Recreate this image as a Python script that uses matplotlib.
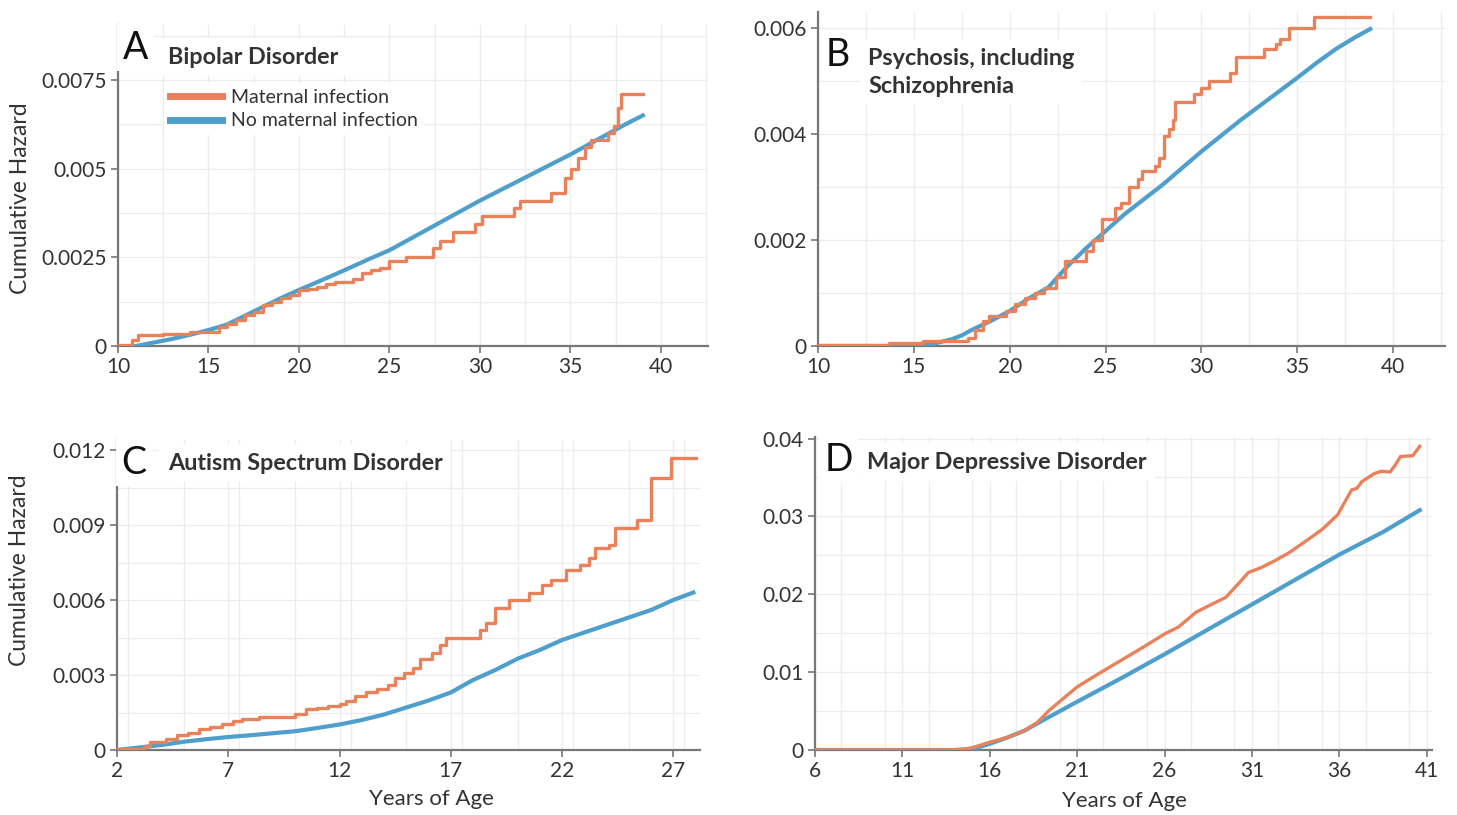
import matplotlib
matplotlib.use("Agg")
import matplotlib.pyplot as plt
from matplotlib.ticker import MultipleLocator

plt.rcParams['font.family'] = ['Lato', 'DejaVu Sans']

ORANGE = '#e9825a'
BLUE = '#4e9fcc'
TXT = '#333333'

# ---- A: bipolar disorder ----
a_inf_x = [10, 10.8, 11.1, 12.5, 14.0, 15.6, 16.0, 16.5, 17.0, 17.5, 18.0, 18.5, 19.0, 19.5,
           20.0, 20.5, 21.0, 21.5, 22.0, 23.0, 23.5, 24.0, 24.5, 25.0, 25.9, 27.4, 27.8, 28.5,
           29.75, 30.1, 31.9, 32.2, 33.9, 34.7, 35.05, 35.4, 35.8, 36.15, 37.1, 37.4, 37.6, 37.8, 39.0]
a_inf_y = [0.00003, 0.00016, 0.0003, 0.00035, 0.0004, 0.00054, 0.00063, 0.00073, 0.00087, 0.00096,
           0.00115, 0.00125, 0.00134, 0.00143, 0.00158, 0.00162, 0.00167, 0.00176, 0.00181, 0.0019,
           0.00205, 0.00214, 0.0022, 0.0024, 0.0025, 0.00277, 0.00296, 0.0032, 0.00343, 0.00366,
           0.0039, 0.0041, 0.0043, 0.00475, 0.005, 0.0053, 0.0056, 0.0058, 0.006, 0.0062, 0.0067,
           0.0071, 0.0071]
a_no_x = [11, 12, 13, 14, 15, 16, 17, 18, 19, 20, 21, 22, 23, 24, 25, 26, 27, 28, 29, 30,
          31, 32, 33, 34, 35, 36, 37, 38, 39]
a_no_y = [0, 0.0001, 0.0002, 0.00032, 0.00045, 0.0006, 0.00085, 0.0011, 0.00135, 0.00158, 0.0018,
          0.00202, 0.00225, 0.00248, 0.0027, 0.00298, 0.00326, 0.00354, 0.00382, 0.0041, 0.00436,
          0.00462, 0.00488, 0.00514, 0.0054, 0.00568, 0.00596, 0.00624, 0.0065]

# ---- B: psychosis ----
b_inf_x = [10, 13.7, 15.5, 17.8, 18.2, 18.6, 18.9, 19.8, 20.3, 20.8, 21.3, 21.8, 22.4, 22.9, 24.0,
           24.35, 24.8, 25.5, 25.8, 26.2, 26.7, 26.9, 27.55, 27.8, 28.05, 28.3, 28.5, 28.6, 29.6,
           29.97, 30.4, 31.5, 31.8, 33.25, 33.9, 34.1, 34.55, 35.85, 38.8]
b_inf_y = [0.00002, 0.00006, 0.00009, 0.00015, 0.0003, 0.00048, 0.00057, 0.00066, 0.0008, 0.0009,
           0.001, 0.0011, 0.0013, 0.0016, 0.0018, 0.002, 0.0024, 0.0026, 0.0027, 0.003, 0.00315,
           0.0033, 0.0034, 0.00355, 0.00396, 0.0041, 0.00427, 0.0046, 0.00476, 0.00486, 0.005,
           0.00514, 0.00545, 0.0056, 0.0057, 0.0058, 0.006, 0.0062, 0.0062]
b_no_x = [10, 14, 15, 16, 17, 17.5, 18, 19, 20, 21, 22, 23, 24, 25, 26, 27, 28, 29, 30, 31, 32,
          33, 34, 35, 36, 37, 38, 38.8]
b_no_y = [0, 0, 0.00001, 0.00004, 0.00013, 0.0002, 0.0003, 0.00047, 0.00066, 0.0009, 0.0011,
          0.0015, 0.00185, 0.00217, 0.00249, 0.00277, 0.00305, 0.00336, 0.00367, 0.00396, 0.00425,
          0.00452, 0.00479, 0.00506, 0.00534, 0.0056, 0.00582, 0.00598]

# ---- C: autism ----
c_inf_x = [2, 2.5, 3.2, 3.5, 4.2, 4.7, 5.2, 5.7, 6.2, 6.7, 7.2, 7.6, 8.4, 10.0, 10.5, 11.0, 11.5,
           12.0, 12.3, 12.7, 13.2, 13.7, 14.2, 14.5, 14.9, 15.3, 15.6, 16.17, 16.5, 16.77, 18.3,
           18.6, 19.0, 19.6, 20.5, 21.1, 21.5, 22.2, 22.8, 23.2, 23.5, 24.1, 24.4, 25.35, 26.0,
           26.9, 28.0]
c_inf_y = [0.00003, 0.00006, 0.00015, 0.00033, 0.00046, 0.0006, 0.0007, 0.00085, 0.00094, 0.00105,
           0.00117, 0.00126, 0.00133, 0.00143, 0.00163, 0.0017, 0.00175, 0.00183, 0.00196, 0.00215,
           0.00232, 0.00245, 0.0026, 0.0029, 0.0031, 0.0033, 0.00364, 0.0039, 0.0042, 0.0045,
           0.0048, 0.0051, 0.0057, 0.006, 0.0063, 0.0066, 0.0068, 0.0072, 0.0074, 0.0077, 0.0081,
           0.0082, 0.0089, 0.0092, 0.0109, 0.0117, 0.0117]
c_no_x = [2, 3, 4, 5, 6, 7, 8, 9, 10, 11, 12, 13, 14, 15, 16, 17, 18, 19, 20, 21, 22, 23, 24,
          25, 26, 27, 27.9]
c_no_y = [0, 0.0001, 0.0002, 0.00033, 0.00043, 0.00052, 0.00059, 0.00067, 0.00075, 0.00088,
          0.00102, 0.0012, 0.00142, 0.0017, 0.00198, 0.0023, 0.0028, 0.0032, 0.00365, 0.004, 0.0044,
          0.0047, 0.005, 0.0053, 0.0056, 0.006, 0.0063]

# ---- D: major depressive disorder ----
d_inf_x = [6, 13.5, 14.5, 15, 16, 17, 18, 18.7, 19.4, 20.2, 21, 22.3, 23.5, 24.7, 26, 26.8, 27.8,
           28.6, 29.5, 30.2, 30.8, 31.5, 32.3, 33.1, 34, 35, 35.9, 36.7, 37.0, 37.3, 38.0, 38.4,
           38.9, 39.2, 39.5, 40.2, 40.6]
d_inf_y = [0, 0, 0.0001, 0.0003, 0.001, 0.0016, 0.0025, 0.0035, 0.0051, 0.0066, 0.0081, 0.0099,
           0.0115, 0.0131, 0.0149, 0.0158, 0.0177, 0.0186, 0.0196, 0.0213, 0.0228, 0.0234, 0.0243,
           0.0253, 0.0267, 0.0283, 0.0302, 0.0334, 0.0336, 0.0345, 0.0355, 0.0358, 0.0357, 0.0366,
           0.0377, 0.0378, 0.039]
d_no_x = [6, 14, 15, 16, 17, 18, 18.7, 21, 23.5, 26, 28.5, 31, 33.5, 36, 38.5, 40.6]
d_no_y = [0, 0, 0.0001, 0.0008, 0.0016, 0.0025, 0.0034, 0.0062, 0.0092, 0.0123, 0.0155, 0.0187,
          0.0219, 0.0251, 0.028, 0.0308]

fig = plt.figure(figsize=(14.57, 8.15), dpi=100)
W, H = 1457, 815


def make_axes(l, t, r, b):
    return fig.add_axes([l / W, 1 - b / H, (r - l) / W, (b - t) / H])


axA = make_axes(118, 25, 708, 346)
axB = make_axes(818, 12, 1445, 346)
axC = make_axes(117, 440, 700, 750)
axD = make_axes(815, 437, 1432, 750)


def style(ax, xlim, xmaj, ylim, ymaj, yticks, ylabels, xticks):
    ax.set_xlim(*xlim)
    ax.set_ylim(*ylim)
    ax.set_xticks(xticks)
    ax.set_yticks(yticks)
    ax.set_yticklabels(ylabels)
    ax.xaxis.set_minor_locator(MultipleLocator(xmaj / 2))
    ax.yaxis.set_minor_locator(MultipleLocator(ymaj / 2))
    ax.grid(True, which='both', color='#ececec', lw=0.9, zorder=0)
    for s in ['top', 'right']:
        ax.spines[s].set_visible(False)
    for s in ['left', 'bottom']:
        ax.spines[s].set_color('#777777')
        ax.spines[s].set_linewidth(1.6)
    ax.tick_params(which='major', length=5, width=1.2, color='#777777', labelsize=15,
                   labelcolor=TXT, pad=3)
    ax.tick_params(which='minor', length=0)


def draw(ax, ix, iy, nx, ny, steps=True):
    ax.plot(nx, ny, color=BLUE, lw=3.0, zorder=3, label='No maternal infection')
    ax.plot(ix, iy, color=ORANGE, lw=2.4, zorder=4, label='Maternal infection',
            drawstyle='steps-post' if steps else 'default')


def panel_title(ax, letter, title, lx, ly, tx, ty):
    ax.text(lx, ly, letter, transform=ax.transAxes, fontsize=27, color='#111111',
            va='top', ha='left', zorder=6,
            bbox=dict(facecolor='white', edgecolor='none', pad=4))
    ax.text(tx, ty, title, transform=ax.transAxes, fontsize=16.8, fontweight='bold',
            color=TXT, va='center', ha='left', zorder=6, linespacing=1.4,
            bbox=dict(facecolor='white', edgecolor='none', pad=6))


draw(axA, a_inf_x, a_inf_y, a_no_x, a_no_y)
style(axA, (10, 42.6), 5, (0, 0.00905), 0.0025, [0, 0.0025, 0.005, 0.0075],
      ['0', '0.0025', '0.005', '0.0075'], [10, 15, 20, 25, 30, 35, 40])
panel_title(axA, 'A', 'Bipolar Disorder', 0.008, 0.985, 0.085, 0.90)
h, l = axA.get_legend_handles_labels()
leg = axA.legend(h[::-1], l[::-1], loc='upper left', bbox_to_anchor=(0.078, 0.82),
                 frameon=True, fontsize=14, handlelength=2.7, handletextpad=0.45,
                 labelspacing=0.35, borderpad=0.3, borderaxespad=0)
leg.get_frame().set_edgecolor('none')
leg.get_frame().set_facecolor('white')
leg.get_frame().set_alpha(1)
for line in leg.get_lines():
    line.set_linewidth(5)
    line.set_drawstyle('default')
for t in leg.get_texts():
    t.set_color(TXT)
axA.set_ylabel('Cumulative Hazard', fontsize=16.5, color=TXT)
axA.yaxis.set_label_coords(-0.147, 0.46)

draw(axB, b_inf_x, b_inf_y, b_no_x, b_no_y)
style(axB, (10, 42.7), 5, (0, 0.0063), 0.002, [0, 0.002, 0.004, 0.006],
      ['0', '0.002', '0.004', '0.006'], [10, 15, 20, 25, 30, 35, 40])
panel_title(axB, 'B', 'Psychosis, including\nSchizophrenia', 0.012, 0.925, 0.08, 0.82)

draw(axC, c_inf_x, c_inf_y, c_no_x, c_no_y)
style(axC, (2, 28.2), 5, (0, 0.0124), 0.003, [0, 0.003, 0.006, 0.009, 0.012],
      ['0', '0.003', '0.006', '0.009', '0.012'], [2, 7, 12, 17, 22, 27])
panel_title(axC, 'C', 'Autism Spectrum Disorder', 0.008, 0.985, 0.087, 0.925)
axC.set_ylabel('Cumulative Hazard', fontsize=16.5, color=TXT)
axC.yaxis.set_label_coords(-0.15, 0.58)
axC.set_xlabel('Years of Age', fontsize=16, color=TXT)
axC.xaxis.set_label_coords(0.539, -0.125)

draw(axD, d_inf_x, d_inf_y, d_no_x, d_no_y, steps=False)
style(axD, (6, 41.3), 5, (0, 0.0402), 0.01, [0, 0.01, 0.02, 0.03, 0.04],
      ['0', '0.01', '0.02', '0.03', '0.04'], [6, 11, 16, 21, 26, 31, 36, 41])
panel_title(axD, 'D', 'Major Depressive Disorder', 0.015, 0.985, 0.085, 0.92)
axD.set_xlabel('Years of Age', fontsize=16, color=TXT)
axD.xaxis.set_label_coords(0.502, -0.13)

fig.savefig('out.png', dpi=100, facecolor='white')
